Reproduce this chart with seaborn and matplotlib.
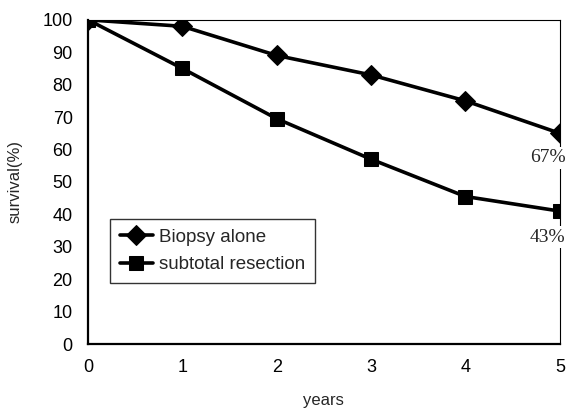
import matplotlib
matplotlib.use("Agg")
import matplotlib.pyplot as plt
import seaborn as sns
import pandas as pd

years = [0, 1, 2, 3, 4, 5]
biopsy = [100, 98, 89, 83, 75, 65]
subtotal = [100, 85, 69.5, 57, 45.5, 41]
series_names = ["Biopsy alone", "subtotal resection"]
end_labels = ["67%", "43%"]

df = pd.DataFrame({
    "years": years * 2,
    "survival": biopsy + subtotal,
    "group": [series_names[0]] * len(years) + [series_names[1]] * len(years),
})

sns.set_style("white")
plt.rcParams["font.family"] = ["Liberation Sans", "DejaVu Sans"]

fig = plt.figure(figsize=(5.73, 4.13), dpi=100)
ax = fig.add_axes([0.1536, 0.167, 0.8234, 0.785])

sns.lineplot(data=df, x="years", y="survival", hue="group", style="group",
             markers={series_names[0]: "D", series_names[1]: "s"},
             dashes=False, palette=["black", "black"], linewidth=2.6,
             markersize=10, markeredgecolor="black", ax=ax)

ax.set_xlim(0, 5)
ax.set_ylim(0, 100)
ax.set_xticks(years)
ax.set_yticks(range(0, 101, 10))
ax.tick_params(direction="in", length=5, width=1, labelsize=13, pad=11, colors="black")
ax.set_xlabel("years", fontsize=12, labelpad=12)
ax.set_ylabel("survival(%)", fontsize=12, labelpad=14)
for s in ["left", "bottom"]:
    ax.spines[s].set_linewidth(1.6)
    ax.spines[s].set_color("black")
for s in ["top", "right"]:
    ax.spines[s].set_linewidth(0.8)
    ax.spines[s].set_color("black")
    ax.spines[s].set_visible(True)

ax.text(4.87, 57.4, end_labels[0], ha="center", va="center", fontsize=14,
        family="Liberation Serif", bbox=dict(facecolor="white", edgecolor="none", pad=2))
ax.text(4.87, 33, end_labels[1], ha="center", va="center", fontsize=14,
        family="Liberation Serif", bbox=dict(facecolor="white", edgecolor="none", pad=2))

leg = ax.legend(loc="upper left", bbox_to_anchor=(0.047, 0.385), fontsize=13.5,
                frameon=True, fancybox=False, edgecolor="black", handlelength=1.8,
                handletextpad=0.3, borderpad=0.5, labelspacing=0.55, borderaxespad=0)
leg.get_frame().set_linewidth(1.0)

fig.savefig("out.png", dpi=100)
